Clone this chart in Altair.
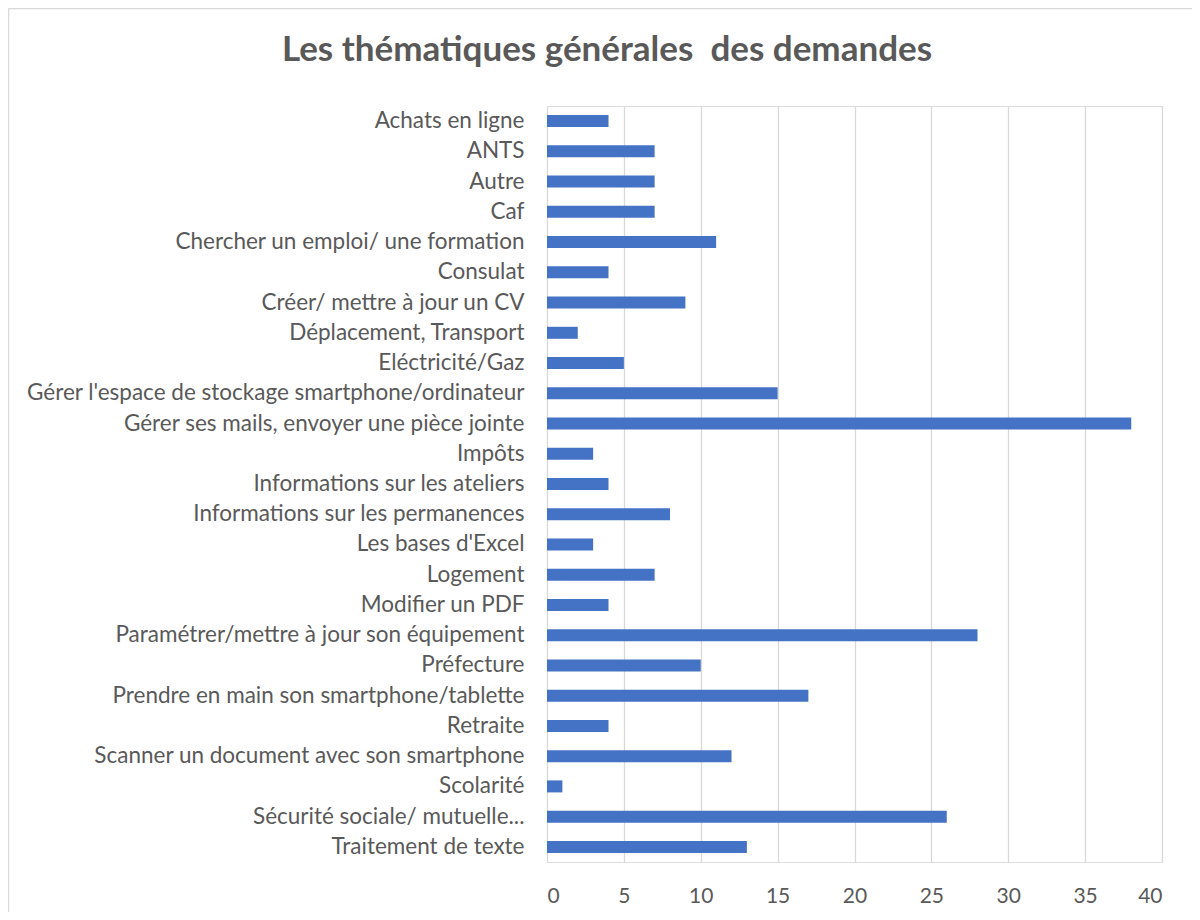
import altair as alt
import pandas as pd

title_text = "Les thématiques générales\u00a0 des demandes"
categories = [
    "Achats en ligne", "ANTS", "Autre", "Caf",
    "Chercher un emploi/ une formation", "Consulat",
    "Créer/ mettre à jour un CV", "Déplacement, Transport",
    "Eléctricité/Gaz", "Gérer l'espace de stockage smartphone/ordinateur",
    "Gérer ses mails, envoyer une pièce jointe", "Impôts",
    "Informations sur les ateliers", "Informations sur les permanences",
    "Les bases d'Excel", "Logement", "Modifier un PDF",
    "Paramétrer/mettre à jour son équipement", "Préfecture",
    "Prendre en main son smartphone/tablette", "Retraite",
    "Scanner un document avec son smartphone", "Scolarité",
    "Sécurité sociale/ mutuelle...", "Traitement de texte",
]
values = [4, 7, 7, 7, 11, 4, 9, 2, 5, 15, 38, 3, 4, 8, 3, 7, 4, 28, 10, 17, 4, 12, 1, 26, 13]
x_ticks = [0, 5, 10, 15, 20, 25, 30, 35, 40]

df = pd.DataFrame({"cat": categories, "val": values})
tdf = pd.DataFrame({"t": [title_text]})

FONT = "Lato"
GREY = "#595959"

bars = alt.Chart(df).mark_bar(color="#4472C4", size=12).encode(
    x=alt.X("val:Q", scale=alt.Scale(domain=[0, 40], nice=False),
            axis=alt.Axis(values=x_ticks, title=None, grid=True, gridColor="#D9D9D9",
                          gridWidth=1.3, domain=False, ticks=False, labelFontSize=21,
                          labelColor=GREY, labelFont=FONT, labelPadding=23)),
    y=alt.Y("cat:N", sort=categories, scale=alt.Scale(paddingInner=0, paddingOuter=0),
            axis=alt.Axis(title=None, domain=False, ticks=False, labelFontSize=22.5,
                          labelColor=GREY, labelFont=FONT, labelPadding=23, labelLimit=600)),
)

top_line = alt.Chart(tdf).mark_rule(stroke="#D9D9D9", strokeWidth=1.5, clip=False).encode(
    x=alt.value(-538.5), x2=alt.value(700), y=alt.value(-97.5)
)
left_line = alt.Chart(tdf).mark_rule(stroke="#D9D9D9", strokeWidth=1.5, clip=False).encode(
    x=alt.value(-538.5), y=alt.value(-97.5), y2=alt.value(900)
)

title = alt.Chart(tdf).mark_text(font=FONT, fontSize=35, fontWeight="bold", color=GREY,
                                 align="center", baseline="middle", clip=False).encode(
    text="t:N", x=alt.value(60), y=alt.value(-56)
)

chart = alt.layer(top_line, left_line, bars, title).properties(
    width=615, height=756,
    autosize=alt.AutoSizeParams(type="none"),
    padding={"left": 539, "top": 98, "right": 30, "bottom": 50},
).configure_view(stroke=None).configure(background="white")

chart.save("out.html", embed_options={"renderer": "svg", "actions": False})
